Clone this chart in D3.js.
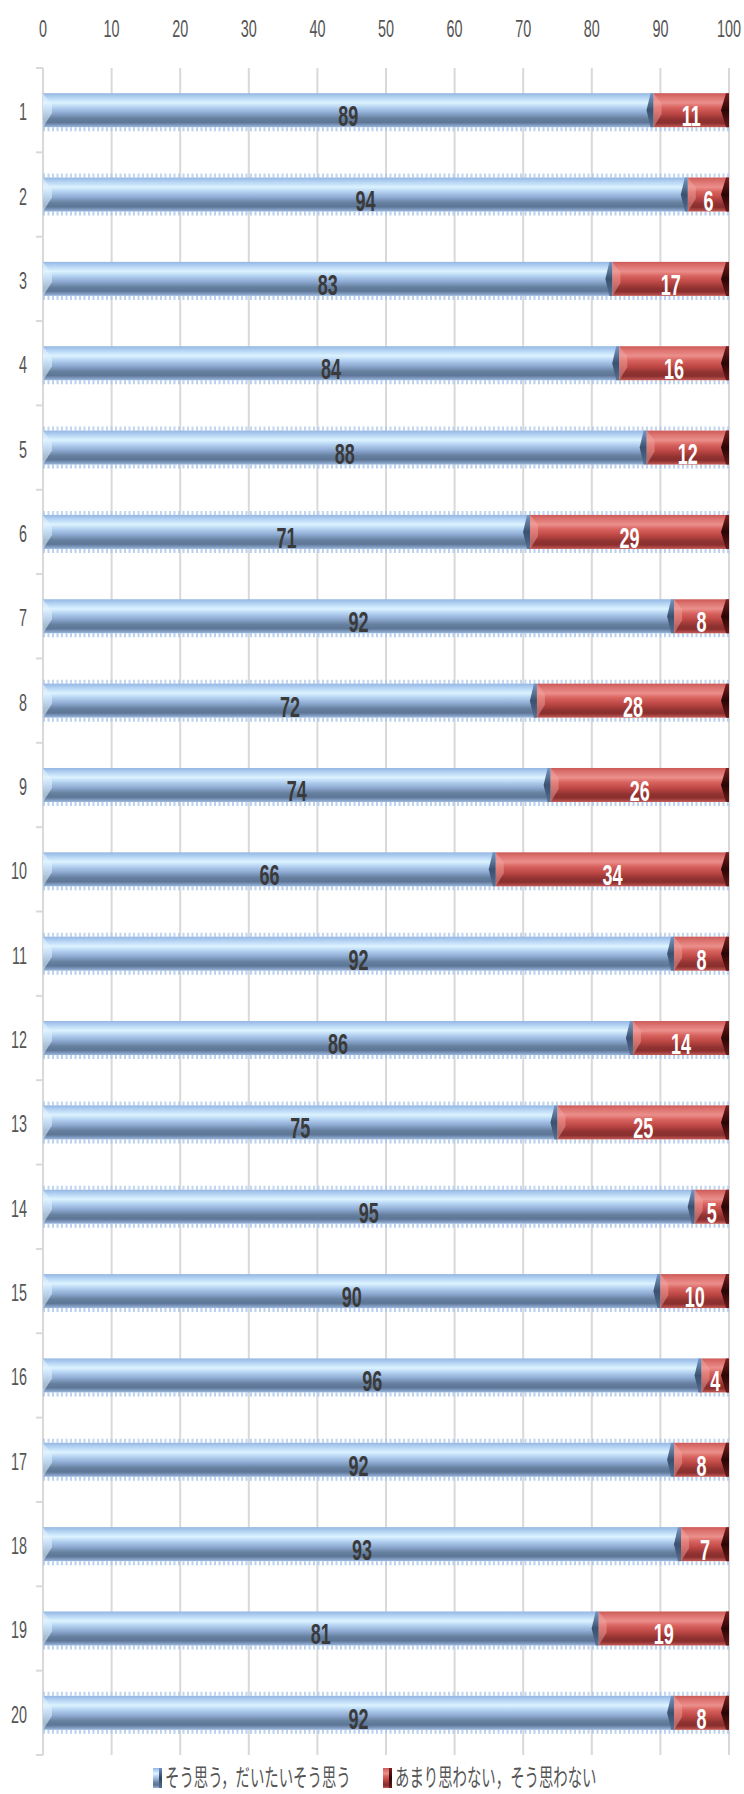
<!DOCTYPE html>
<html>
<head>
<meta charset="utf-8">
<script src="https://cdn.jsdelivr.net/npm/d3@7"></script>
<style>
html,body{margin:0;padding:0;background:#fff;}
svg{display:block;}
</style>
</head>
<body>
<svg id="chart" width="744" height="1794"></svg>
<script>
const categories = ["1","2","3","4","5","6","7","8","9","10","11","12","13","14","15","16","17","18","19","20"];
const agree = [89,94,83,84,88,71,92,72,74,66,92,86,75,95,90,96,92,93,81,92];
const disagree = [11,6,17,16,12,29,8,28,26,34,8,14,25,5,10,4,8,7,19,8];
const xTicks = [0,10,20,30,40,50,60,70,80,90,100];
const seriesNames = ["そう思う，だいたいそう思う", "あまり思わない，そう思わない"];

(function () {
const svg = d3.select("#chart");
const pL = 43, pR = 729, pT = 68, pB = 1755;
const x = d3.scaleLinear().domain([0, 100]).range([pL, pR]);
const y = d3.scaleBand().domain(categories).range([pT, pB]).paddingInner(0).paddingOuter(0);
const barH = 34;

const defs = svg.append("defs");
function grad(id, stops) {
  const g = defs.append("linearGradient").attr("id", id).attr("x1", 0).attr("y1", 0).attr("x2", 0).attr("y2", 1);
  stops.forEach(s => g.append("stop").attr("offset", s[0]).attr("stop-color", s[1]));
}
grad("gBlue", [[0, "#94b6e2"], [0.12, "#b3d2f3"], [0.28, "#dcf3ff"], [0.42, "#b2d0f0"], [0.58, "#8eaad2"], [0.74, "#66809f"], [0.86, "#5d7596"], [1, "#9bb8df"]]);
grad("gRed", [[0, "#cc5a57"], [0.12, "#dc7370"], [0.28, "#eb8f8b"], [0.42, "#d8625e"], [0.6, "#bc4744"], [0.78, "#8f3231"], [0.88, "#8a2f2e"], [1, "#c45a57"]]);
grad("gBlueEnd", [[0, "#6f8fbd"], [0.5, "#2f4562"], [1, "#566f93"]]);
grad("gRedEnd", [[0, "#7a2020"], [0.5, "#2a0505"], [1, "#6a1a1a"]]);

const grid = svg.append("g");
grid.selectAll("line.v").data(xTicks.slice(1)).join("line")
  .attr("x1", d => x(d)).attr("x2", d => x(d))
  .attr("y1", pT).attr("y2", pB)
  .attr("stroke", "#d9d9d9").attr("stroke-width", 2);
grid.append("line").attr("x1", pL).attr("x2", pL).attr("y1", pT).attr("y2", pB)
  .attr("stroke", "#d9d9d9").attr("stroke-width", 2);
const bounds = categories.map(c => y(c)).concat([pB]);
grid.selectAll("line.t").data(bounds).join("line")
  .attr("x1", pL - 7).attr("x2", pL)
  .attr("y1", d => d).attr("y2", d => d)
  .attr("stroke", "#d9d9d9").attr("stroke-width", 2);

function sText(g, txt, px, py, size, sx, opts) {
  return g.append("text")
    .attr("transform", `translate(${px},${py}) scale(${sx},1)`)
    .attr("font-family", opts.family || "'Liberation Sans', Arial, sans-serif")
    .attr("font-size", size)
    .attr("font-weight", opts.weight || "normal")
    .attr("text-anchor", opts.anchor || "middle")
    .attr("fill", opts.fill || "#595959")
    .text(txt);
}

const axG = svg.append("g");
xTicks.forEach(t => sText(axG, t, x(t), 37, 24, 0.6, {fill: "#555"}));

const catG = svg.append("g");
categories.forEach(c => sText(catG, c, 27, y(c) + y.bandwidth() / 2 + 10, 24, 0.6, {anchor: "end", fill: "#555"}));

const barsG = svg.append("g");
categories.forEach((c, i) => {
  const cy = y(c) + y.bandwidth() / 2;
  const y0 = cy - barH / 2, y1 = cy + barH / 2;
  const xa0 = x(0), xa1 = x(agree[i]), xb1 = x(agree[i] + disagree[i]);
  barsG.append("line").attr("x1", xa0).attr("x2", xb1).attr("y1", y1 + 2).attr("y2", y1 + 2)
    .attr("stroke", "#a9c6ec").attr("stroke-width", 4).attr("stroke-dasharray", "2,2.5").attr("opacity", 0.8);
  if (i % 3 === 1 || i === 12 || i === 5) {
    barsG.append("line").attr("x1", xa0).attr("x2", xb1).attr("y1", y0 - 2).attr("y2", y0 - 2)
      .attr("stroke", "#a9c6ec").attr("stroke-width", 4).attr("stroke-dasharray", "2,2.5").attr("opacity", 0.7);
  }
  barsG.append("rect").attr("x", xa0).attr("y", y0).attr("width", xa1 - xa0).attr("height", barH).attr("fill", "url(#gBlue)");
  barsG.append("rect").attr("x", xa1).attr("y", y0).attr("width", xb1 - xa1).attr("height", barH).attr("fill", "url(#gRed)");
  barsG.append("path").attr("d", `M${xa0},${y0} L${xa0 + 9},${y0 + 12} L${xa0 + 9},${cy + 3} L${xa0},${y1} Z`)
    .attr("fill", "#e4f4ff").attr("opacity", 0.55);
  barsG.append("path").attr("d", `M${xa1 - 3},${y0} L${xa1},${y0} L${xa1},${y1} L${xa1 - 3},${y1} L${xa1 - 7},${cy} Z`)
    .attr("fill", "url(#gBlueEnd)").attr("opacity", 0.9);
  barsG.append("path").attr("d", `M${xa1},${y0} L${xa1 + 8},${y0 + 10} L${xa1 + 8},${cy + 4} L${xa1},${y1} Z`)
    .attr("fill", "#f4a8a4").attr("opacity", 0.45);
  barsG.append("path").attr("d", `M${xb1 - 3},${y0} L${xb1},${y0} L${xb1},${y1} L${xb1 - 3},${y1} L${xb1 - 8},${cy} Z`)
    .attr("fill", "url(#gRedEnd)");
  sText(barsG, agree[i], (xa0 + xa1) / 2, cy + 16, 30, 0.6, {weight: "bold", fill: "#3a3a3a"});
  sText(barsG, disagree[i], (xa1 + xb1) / 2, cy + 16, 30, 0.6, {weight: "bold", fill: "#ffffff"});
});

const lg = svg.append("g");
const legendItems = [
  {name: seriesNames[0], mx: 153, fill: "url(#gBlue)", end: "url(#gBlueEnd)"},
  {name: seriesNames[1], mx: 383, fill: "url(#gRed)", end: "url(#gRedEnd)"}
];
legendItems.forEach(it => {
  lg.append("rect").attr("x", it.mx).attr("y", 1768).attr("width", 9).attr("height", 20).attr("fill", it.fill);
  lg.append("rect").attr("x", it.mx + 6).attr("y", 1768).attr("width", 3).attr("height", 20).attr("fill", it.end);
  sText(lg, it.name, it.mx + 12, 1786, 24, 0.6, {anchor: "start", fill: "#555", family: "'Noto Sans CJK JP', sans-serif"});
});
})();
</script>
</body>
</html>
